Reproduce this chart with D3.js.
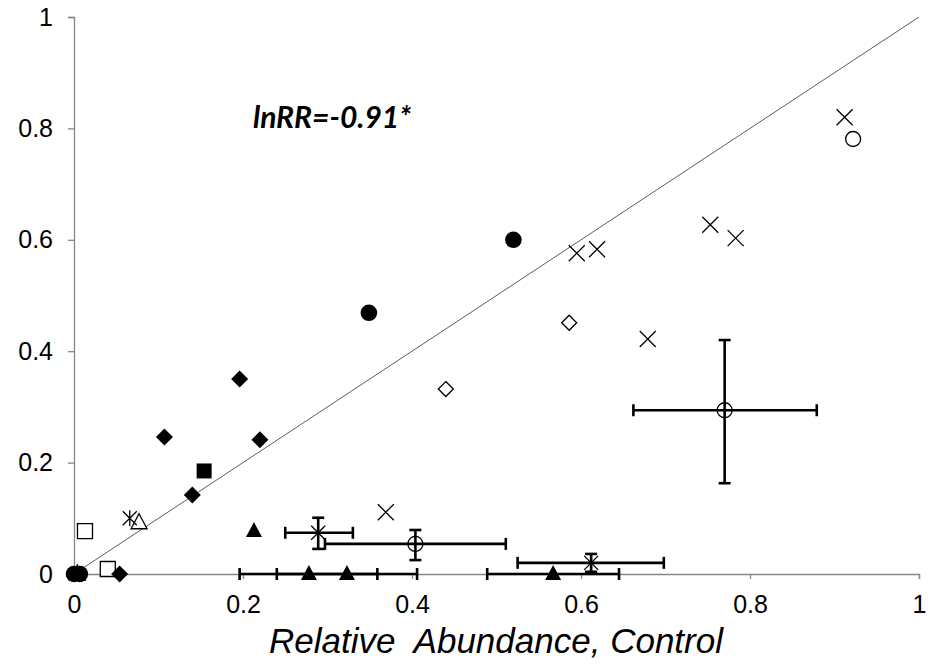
<!DOCTYPE html>
<html>
<head>
<meta charset="utf-8">
<script src="https://cdn.jsdelivr.net/npm/d3@7"></script>
<style>
  html, body { margin: 0; padding: 0; background: #fff; }
  svg { display: block; }
</style>
</head>
<body>
<svg id="chart" width="936" height="664"></svg>
<script>
// ---------- data ----------
const xTicks = [0, 0.2, 0.4, 0.6, 0.8, 1];
const yTicks = [0, 0.2, 0.4, 0.6, 0.8, 1];
const xTitle = "Relative  Abundance, Control";
const annotation = "lnRR=-0.91*";

const filledCircles   = [[0, 0], [0.007, 0], [0.349, 0.469], [0.520, 0.600]];
const openCircles     = [[0.922, 0.781]];
const crosses         = [[0.912, 0.820], [0.753, 0.627], [0.783, 0.603], [0.595, 0.576], [0.619, 0.583], [0.679, 0.422], [0.369, 0.111]];
const asterisks       = [[0.066, 0.100]];
const openDiamonds    = [[0.440, 0.332], [0.586, 0.451]];
const filledDiamonds  = [[0.107, 0.246], [0.196, 0.350], [0.220, 0.241], [0.140, 0.142], [0.054, 0]];
const filledSquares   = [[0.154, 0.185]];
const openSquares     = [[0.013, 0.077], [0.040, 0.009]];
const openTriangles   = [[0.077, 0.092], [0.004, 0]];
const filledTriangles = [[0.213, 0.077]];

// points with error bars: [x, y, xLow, xHigh, yLow, yHigh]
const openCircleErr    = [[0.770, 0.294, 0.662, 0.879, 0.163, 0.420], [0.404, 0.054, 0.297, 0.511, 0.025, 0.079]];
const asteriskErr      = [[0.289, 0.074, 0.250, 0.330, 0.045, 0.101], [0.612, 0.020, 0.525, 0.698, 0.004, 0.036]];
const filledTriangleErr = [[0.278, 0, 0.196, 0.359, null, null], [0.323, 0, 0.240, 0.406, null, null], [0.567, 0, 0.489, 0.645, null, null]];

// ---------- layout ----------
const svg = d3.select("#chart");
const x = d3.scaleLinear().domain([0, 1]).range([74, 919]);
const y = d3.scaleLinear().domain([0, 1]).range([574, 17]);
const axisColor = "#868686";
const fontFam = "'Liberation Sans', Arial, sans-serif";

// 1:1 line
svg.append("line")
  .attr("x1", x(0)).attr("y1", y(0)).attr("x2", x(1)).attr("y2", y(1))
  .attr("stroke", "#333").attr("stroke-width", 0.8);

// axes
const fmt = d3.format("~g");
const gx = svg.append("g").attr("transform", `translate(0,${y(0)})`)
  .call(d3.axisBottom(x).tickValues(xTicks).tickFormat(fmt).tickSize(5).tickPadding(16));
const gy = svg.append("g").attr("transform", `translate(${x(0)},0)`)
  .call(d3.axisLeft(y).tickValues(yTicks).tickFormat(fmt).tickSize(6).tickPadding(15));
[gx, gy].forEach(g => {
  g.select(".domain").attr("stroke", axisColor).attr("stroke-width", 1.3);
  g.selectAll(".tick line").attr("stroke", axisColor).attr("stroke-width", 1.3);
  g.selectAll(".tick text").attr("fill", "#000").style("font-family", fontFam).style("font-size", "25px");
});

// error bars
const ebStroke = 2.6, cap = 6;
function errBars(data) {
  const g = svg.append("g").attr("stroke", "#000").attr("stroke-width", ebStroke).attr("fill", "none");
  data.forEach(d => {
    const [px, py, xl, xh, yl, yh] = d;
    if (xl !== null) {
      g.append("line").attr("x1", x(xl)).attr("x2", x(xh)).attr("y1", y(py)).attr("y2", y(py));
      g.append("line").attr("x1", x(xl)).attr("x2", x(xl)).attr("y1", y(py) - cap).attr("y2", y(py) + cap);
      g.append("line").attr("x1", x(xh)).attr("x2", x(xh)).attr("y1", y(py) - cap).attr("y2", y(py) + cap);
    }
    if (yl !== null) {
      g.append("line").attr("x1", x(px)).attr("x2", x(px)).attr("y1", y(yl)).attr("y2", y(yh));
      g.append("line").attr("x1", x(px) - cap).attr("x2", x(px) + cap).attr("y1", y(yl)).attr("y2", y(yl));
      g.append("line").attr("x1", x(px) - cap).attr("x2", x(px) + cap).attr("y1", y(yh)).attr("y2", y(yh));
    }
  });
}
errBars(filledTriangleErr);
errBars(openCircleErr);
errBars(asteriskErr);

// markers
const crossPath = s => `M${-s},${-s}L${s},${s}M${-s},${s}L${s},${-s}`;
const asteriskPath = s => crossPath(s) + `M0,${-s * 1.15}L0,${s * 1.15}`;
const sym = {
  circle: d3.symbol().type(d3.symbolCircle).size(Math.PI * 8.3 * 8.3)(),
  openCircle: d3.symbol().type(d3.symbolCircle).size(Math.PI * 7.5 * 7.5)(),
  diamond: `M0,-8.5L8.5,0L0,8.5L-8.5,0Z`,
  openDiamond: `M0,-7.5L7.5,0L0,7.5L-7.5,0Z`,
  square: `M-7.5,-7.5H7.5V7.5H-7.5Z`,
  openSquare: `M-7.5,-7.5H7.5V7.5H-7.5Z`,
  triangle: `M0,-9L8,6L-8,6Z`,
  openTriangle: `M0,-9L8,6L-8,6Z`
};

function draw(data, path, fill, stroke, sw) {
  svg.append("g").selectAll("path").data(data).join("path")
    .attr("d", path)
    .attr("transform", d => `translate(${x(d[0])},${y(d[1])})`)
    .attr("fill", fill).attr("stroke", stroke).attr("stroke-width", sw);
}
draw(openTriangles, sym.openTriangle, "#fff", "#000", 1.3);
draw(openSquares, sym.openSquare, "#fff", "#000", 1.3);
draw(filledCircles, sym.circle, "#000", "none", 0);
draw(filledDiamonds, sym.diamond, "#000", "none", 0);
draw(filledSquares, sym.square, "#000", "none", 0);
draw(filledTriangles.concat(filledTriangleErr.map(d => [d[0], d[1]])), sym.triangle, "#000", "none", 0);
draw(openDiamonds, sym.openDiamond, "#fff", "#000", 1.3);
draw(openCircles.concat(openCircleErr.map(d => [d[0], d[1]])), sym.openCircle, "none", "#000", 1.3);
draw(crosses, crossPath(8), "none", "#000", 1.3);
draw(asterisks, asteriskPath(7), "none", "#000", 1.3);
draw(asteriskErr.map(d => [d[0], d[1]]), crossPath(7), "none", "#000", 1.3);

// annotation
svg.append("text")
  .attr("x", 253).attr("y", 128)
  .style("font-family", "Lato, 'Open Sans', sans-serif")
  .style("font-weight", "bold").style("font-style", "italic").style("font-size", "30px")
  .text(annotation);

// x title
svg.append("text")
  .attr("x", 496).attr("y", 653).attr("text-anchor", "middle")
  .style("font-family", fontFam).style("font-style", "italic").style("font-size", "35px")
  .style("white-space", "pre")
  .text(xTitle);
</script>
</body>
</html>
